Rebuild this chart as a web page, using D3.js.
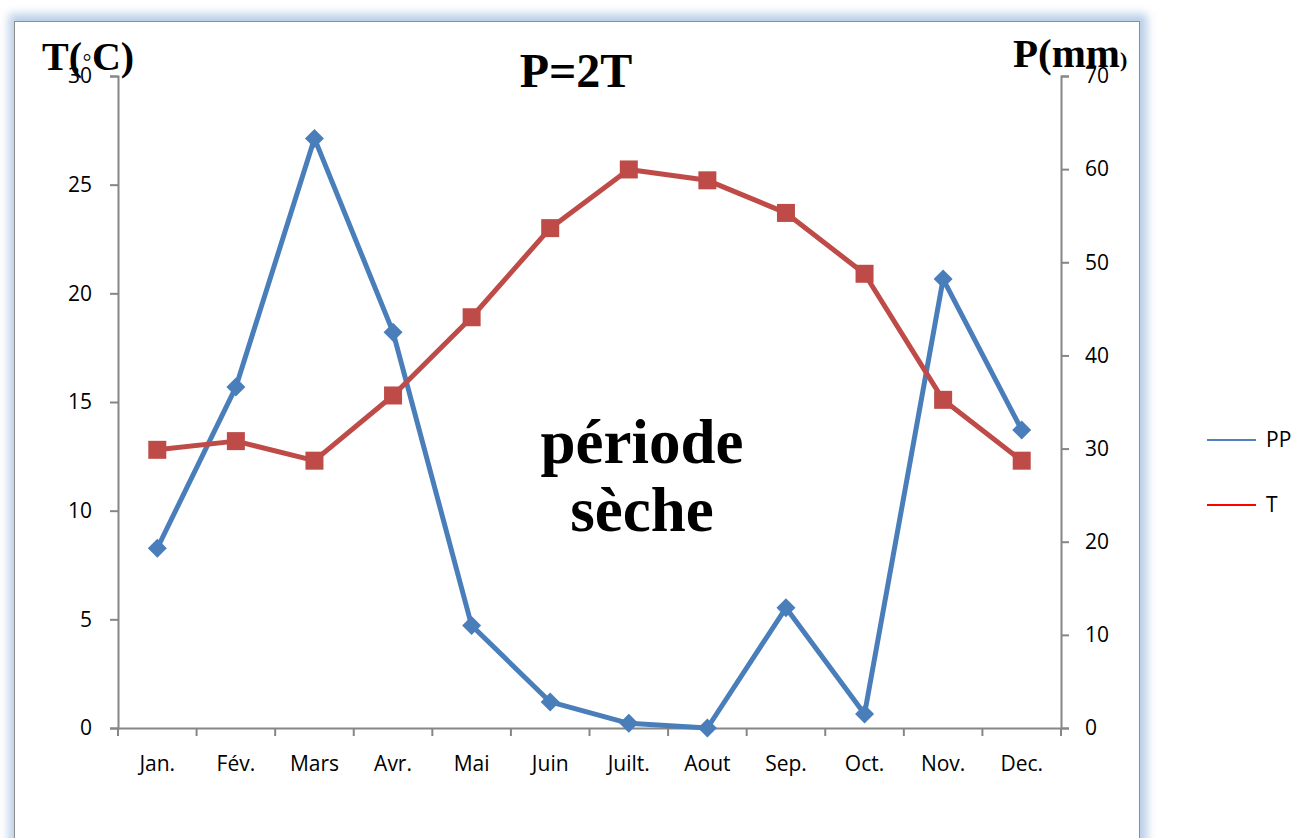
<!DOCTYPE html>
<html>
<head>
<meta charset="utf-8">
<script src="https://cdn.jsdelivr.net/npm/d3@7"></script>
<style>
  body { margin: 0; background: #fff; }
  svg { display: block; }
  .tick text { font-family: "Open Sans", "Noto Sans", sans-serif; font-size: 21px; fill: #000; }
</style>
</head>
<body>
<svg id="chart" width="1296" height="838"></svg>
<script>
const months = ["Jan.", "Fév.", "Mars", "Avr.", "Mai", "Juin", "Juilt.", "Aout", "Sep.", "Oct.", "Nov.", "Dec."];
const pp = [19.3, 36.6, 63.3, 42.5, 11.0, 2.8, 0.5, 0.0, 12.9, 1.5, 48.2, 32.0];
const temp = [12.8, 13.2, 12.3, 15.3, 18.9, 23.0, 25.7, 25.2, 23.7, 20.9, 15.1, 12.3];
const tTicks = [0, 5, 10, 15, 20, 25, 30];
const pTicks = [0, 10, 20, 30, 40, 50, 60, 70];

const blue = "#4a7ebb", red = "#be4b48";

const svg = d3.select("#chart");

/** frame with blue glow
------------------------------------------------------------*/
const defs = svg.append("defs");
defs.append("filter").attr("id", "glow")
  .attr("x", "-5%").attr("y", "-5%").attr("width", "110%").attr("height", "110%")
  .append("feGaussianBlur").attr("stdDeviation", 5);

svg.append("rect")
  .attr("x", 9).attr("y", 14).attr("width", 1138).attr("height", 860)
  .attr("fill", "#b7cde6")
  .attr("filter", "url(#glow)");

svg.append("rect")
  .attr("x", 14.5).attr("y", 21.5).attr("width", 1125).attr("height", 840)
  .attr("fill", "#fff")
  .attr("stroke", "#8e8e8e");

/** scales
------------------------------------------------------------*/
const plotLeft = 118, plotRight = 1061, plotTop = 76, plotBottom = 728;

const x = d3.scaleBand().domain(months).range([plotLeft, plotRight]);
const yT = d3.scaleLinear().domain([0, 30]).range([plotBottom, plotTop]);
const yP = d3.scaleLinear().domain([0, 70]).range([plotBottom, plotTop]);

/** axes
------------------------------------------------------------*/
const axisColor = "#868686";

const gx = svg.append("g").attr("transform", `translate(0,${plotBottom})`)
  .call(d3.axisBottom(x).tickSize(0));
gx.select(".domain").attr("stroke", axisColor).attr("stroke-width", 2);
gx.selectAll("text").attr("dy", "0.71em").attr("y", 28);

// category boundary ticks
svg.append("g").selectAll("line")
  .data(d3.range(months.length + 1))
  .enter().append("line")
  .attr("x1", i => plotLeft + i * x.step())
  .attr("x2", i => plotLeft + i * x.step())
  .attr("y1", plotBottom)
  .attr("y2", plotBottom + 8)
  .attr("stroke", axisColor)
  .attr("stroke-width", 2);

const gl = svg.append("g").attr("transform", `translate(${plotLeft},0)`)
  .call(d3.axisLeft(yT).tickValues(tTicks).tickSize(8).tickSizeOuter(8).tickPadding(18));
gl.selectAll(".domain, line").attr("stroke", axisColor).attr("stroke-width", 2);

const gr = svg.append("g").attr("transform", `translate(${plotRight},0)`)
  .call(d3.axisRight(yP).tickValues(pTicks).tickSize(8).tickSizeOuter(8).tickPadding(16));
gr.selectAll(".domain, line").attr("stroke", axisColor).attr("stroke-width", 2);

/** series
------------------------------------------------------------*/
const cx = (d, i) => x(months[i]) + x.bandwidth() / 2;

svg.append("path")
  .datum(pp)
  .attr("fill", "none")
  .attr("stroke", blue)
  .attr("stroke-width", 5)
  .attr("stroke-linejoin", "round")
  .attr("d", d3.line().x(cx).y(d => yP(d)));

svg.append("g").selectAll("path")
  .data(pp)
  .enter().append("path")
  .attr("transform", (d, i) => `translate(${cx(d, i)},${yP(d)})`)
  .attr("d", d3.symbol().type(d3.symbolDiamond2).size(230))
  .attr("fill", blue);

svg.append("path")
  .datum(temp)
  .attr("fill", "none")
  .attr("stroke", red)
  .attr("stroke-width", 5)
  .attr("stroke-linejoin", "round")
  .attr("d", d3.line().x(cx).y(d => yT(d)));

svg.append("g").selectAll("rect")
  .data(temp)
  .enter().append("rect")
  .attr("x", (d, i) => cx(d, i) - 9)
  .attr("y", d => yT(d) - 9)
  .attr("width", 18)
  .attr("height", 18)
  .attr("fill", red);

/** texts
------------------------------------------------------------*/
const serif = "'Liberation Serif', 'DejaVu Serif', serif";

const tLabel = svg.append("text")
  .attr("x", 42).attr("y", 70)
  .attr("font-family", serif).attr("font-weight", "bold").attr("font-size", 40);
tLabel.append("tspan").text("T(");
tLabel.append("tspan").attr("font-size", 28).attr("dy", -4).text("◦");
tLabel.append("tspan").attr("dy", 4).text("C)");

svg.append("text")
  .attr("x", 1013).attr("y", 67)
  .attr("font-family", serif).attr("font-weight", "bold").attr("font-size", 41)
  .text("P(mm")
  .append("tspan").attr("font-size", 22).text(")");

svg.append("text")
  .attr("x", 576).attr("y", 87)
  .attr("text-anchor", "middle")
  .attr("font-family", serif).attr("font-weight", "bold").attr("font-size", 48)
  .text("P=2T");

const dry = svg.append("text")
  .attr("text-anchor", "middle")
  .attr("font-family", serif).attr("font-weight", "bold").attr("font-size", 63);
dry.append("tspan").attr("x", 642).attr("y", 463).text("période");
dry.append("tspan").attr("x", 642).attr("y", 531).text("sèche");

/** legend
------------------------------------------------------------*/
const legend = [
  {label: "PP", color: "#4f81bd", y: 440},
  {label: "T", color: "#ff0000", y: 505}
];

const lg = svg.append("g").selectAll("g")
  .data(legend)
  .enter().append("g");

lg.append("line")
  .attr("x1", 1207).attr("x2", 1256)
  .attr("y1", d => d.y).attr("y2", d => d.y)
  .attr("stroke", d => d.color)
  .attr("stroke-width", 2);

lg.append("text")
  .attr("x", 1266).attr("y", d => d.y)
  .attr("dy", "0.35em")
  .attr("font-family", "'Open Sans', 'Noto Sans', sans-serif")
  .attr("font-size", 21)
  .text(d => d.label);
</script>
</body>
</html>
